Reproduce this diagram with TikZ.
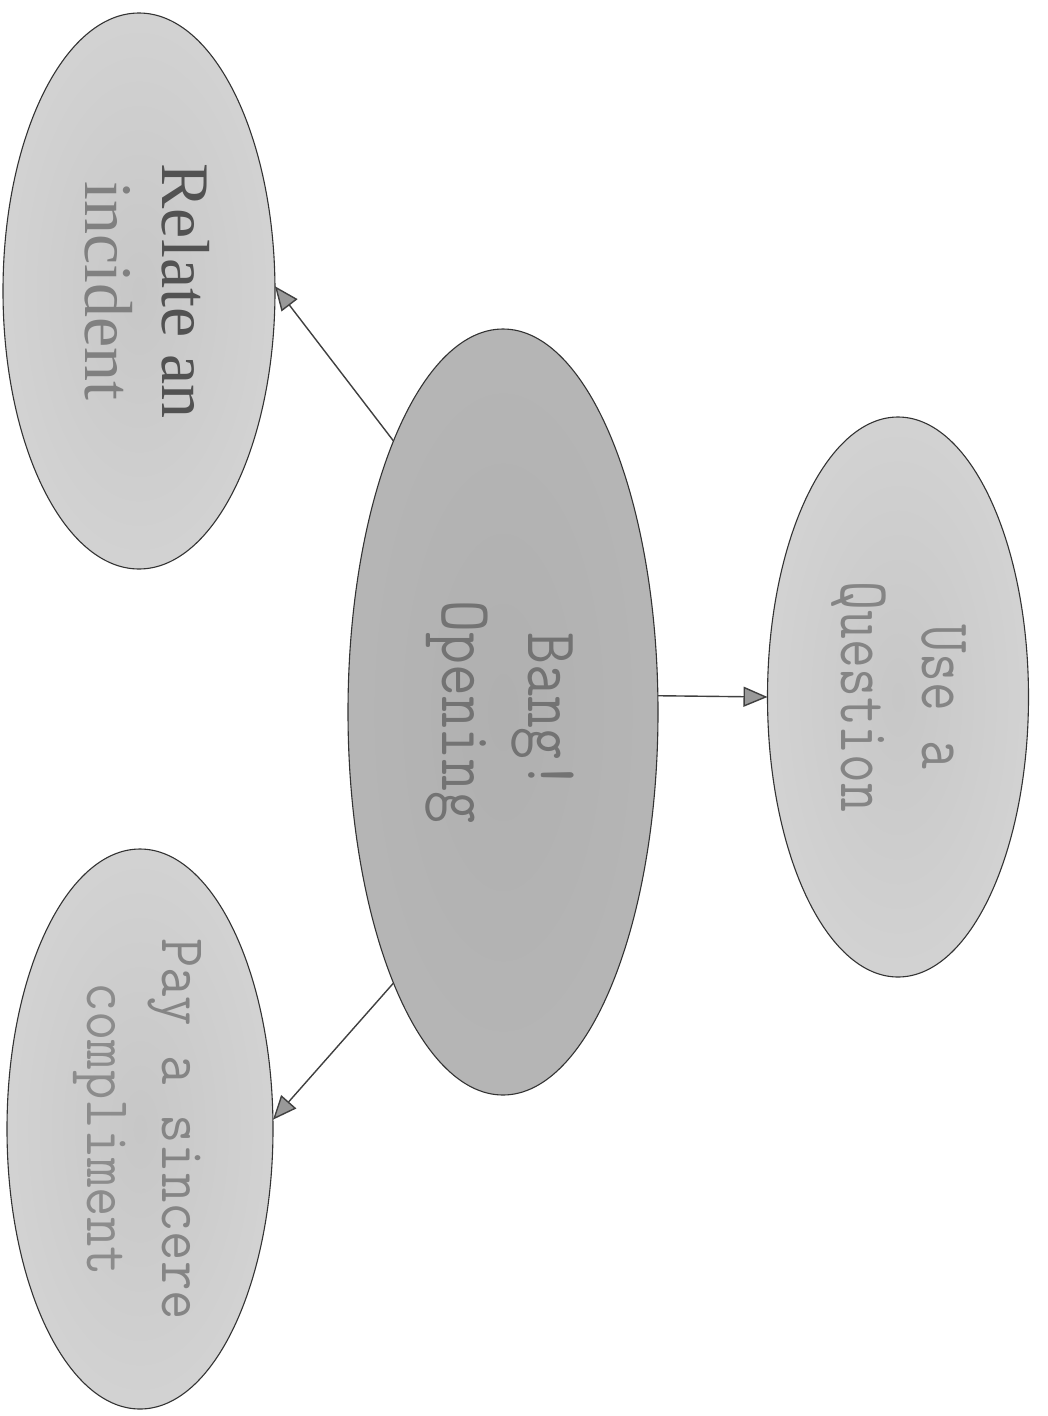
\documentclass[tikz,border=0pt]{standalone}
\usepackage{graphicx}
\usepackage{fontspec}
\setmainfont{Liberation Serif}
\usetikzlibrary{shapes.geometric,arrows.meta}
\pgfdeclareradialshading{sidebub}{\pgfpoint{0bp}{0bp}}{color(0bp)=(black!22); color(28bp)=(black!17); color(50bp)=(black!10)}
\pgfdeclareradialshading{corebub}{\pgfpoint{0bp}{0bp}}{color(0bp)=(black!31); color(35bp)=(black!28); color(50bp)=(black!22)}
\begin{document}
\begin{tikzpicture}[x=1pt,y=-1pt,
  bubble/.style={ellipse, draw=black!80, line width=1.1pt, inner sep=0pt, outer sep=0pt},
  side/.style={bubble, shading=sidebub},
  core/.style={bubble, shading=corebub},
  link/.style={draw=black!75, line width=1.4pt, -{Triangle[length=24pt,width=20pt,fill=black!40]}},
]
\fill[white] (0,0) rectangle (1048,1416);
\useasboundingbox (0,0) rectangle (1048,1416);

\node[side, minimum width=272pt, minimum height=556pt] (relate) at (139,291)
  {\rotatebox{-90}{\fontsize{68}{77}\selectfont\begin{tabular}{@{}c@{}}\color{black!68}Relate an\\ \color{black!50}incident\end{tabular}}};

\node[core, minimum width=310pt, minimum height=766pt] (bang) at (503,712)
  {\rotatebox{-90}{\scalebox{1}[1.18]{\ttfamily\fontsize{62}{73}\selectfont\begin{tabular}{@{}c@{}}\color{black!55}Bang!\\ \color{black!55}Opening\end{tabular}}}};

\node[side, minimum width=261pt, minimum height=560pt] (use) at (898,697)
  {\rotatebox{-90}{\scalebox{1}[1.28]{\ttfamily\fontsize{56}{63}\selectfont\begin{tabular}{@{}c@{}}\color{black!48}Use a\\ \color{black!48}Question\end{tabular}}}};

\node[side, minimum width=266pt, minimum height=560pt] (pay) at (140,1129)
  {\rotatebox{-90}{\scalebox{1}[1.12]{\ttfamily\fontsize{57}{67}\selectfont\begin{tabular}{@{}c@{}}\color{black!48}Pay a sincere\\ \color{black!45}compliment\end{tabular}}}};

\draw[link] (bang.112) -- (relate.2);
\draw[link] (bang.6) -- (use.west);
\draw[link] (bang.248) -- (pay.4);
\end{tikzpicture}
\end{document}
